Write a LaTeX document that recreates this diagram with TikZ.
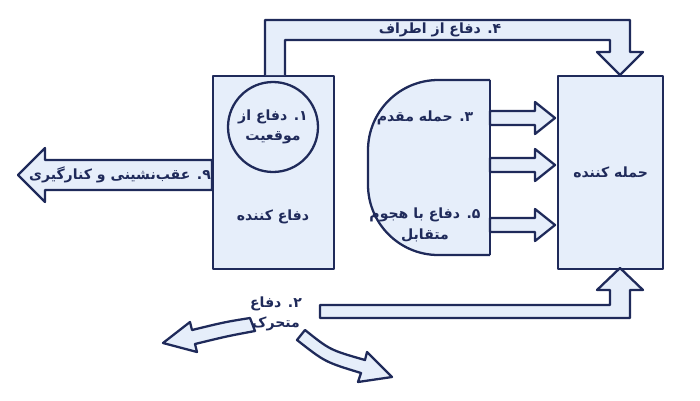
\documentclass[tikz,border=0pt]{standalone}
\usepackage{fontspec}
\newfontfamily\farsi[Script=Arabic]{DejaVu Sans}
\TeXXeTstate=1
\newcommand{\fa}[1]{{\farsi\bfseries\beginR #1\endR}}
\usetikzlibrary{positioning}
\definecolor{ink}{HTML}{1F2A5A}
\definecolor{pale}{HTML}{E6EEFA}
\tikzstyle{block} = [draw=ink, fill=pale, line width=1.3pt, line join=round]
\tikzstyle{label} = [text=ink, font=\footnotesize, align=center]

\begin{document}
\begin{tikzpicture}[x=0.02cm, y=-0.02cm]
\useasboundingbox (0,0) rectangle (700,400);

% boxes
\node (defender) [block, minimum width=2.42cm, minimum height=3.86cm, anchor=north west] at (212,75) {};
\node (attacker) [block, minimum width=2.1cm, minimum height=3.86cm, anchor=north west] at (557,75) {};
\node (position) [block, circle, minimum size=1.8cm] at (273,127) {};
\node [label] at (position) {\fa{۱. دفاع از}\\[2pt]\fa{موقعیت}};
\node [label] at (273,217) {\fa{دفاع کننده}};
\node [label] at (attacker) {\fa{حمله کننده}};

% middle group
\draw [block, rounded corners=40] (490,80) -- (368,80) -- (368,255) -- (490,255);
\draw [block] (490,80) -- (490,255);
\foreach \y in {118,165,225}
  \draw [block] (490,\y-7) -- (535,\y-7) -- (535,\y-16) -- (555,\y) -- (535,\y+16) -- (535,\y+7) -- (490,\y+7) -- cycle;
\node [label] at (425,118) {\fa{۳. حمله مقدم}};
\node [label] at (425,225) {\fa{۵. دفاع با هجوم}\\[2pt]\fa{متقابل}};

% flank
\draw [block] (265,75) -- (265,20) -- (630,20) -- (630,52) -- (643,52) -- (620,75) -- (597,52) -- (610,52) -- (610,40) -- (285,40) -- (285,75);
\node [label] at (440,30) {\fa{۴. دفاع از اطراف}};

% withdrawal
\draw [block] (212,160) -- (45,160) -- (45,148) -- (18,175) -- (45,202) -- (45,190) -- (212,190) -- cycle;
\node [label] at (120,175) {\fa{۹. عقب‌نشینی و کنارگیری}};

% mobile
\draw [block] (320,305) -- (610,305) -- (610,290) -- (597,290) -- (620,268) -- (643,290) -- (630,290) -- (630,318) -- (320,318) -- cycle;
\draw [block] (250,318) .. controls (225,322) .. (192,330) -- (190,322) -- (163,343) -- (197,352) -- (195,344) .. controls (228,336) .. (255,331) -- cycle;
\draw [block] (305,330) .. controls (330,350) .. (365,360) -- (367,352) -- (392,377) -- (358,382) -- (361,373) .. controls (325,362) .. (297,340) -- cycle;
\node [label] at (276,314) {\fa{۲. دفاع}\\[2pt]\fa{متحرک}};
\end{tikzpicture}
\end{document}
